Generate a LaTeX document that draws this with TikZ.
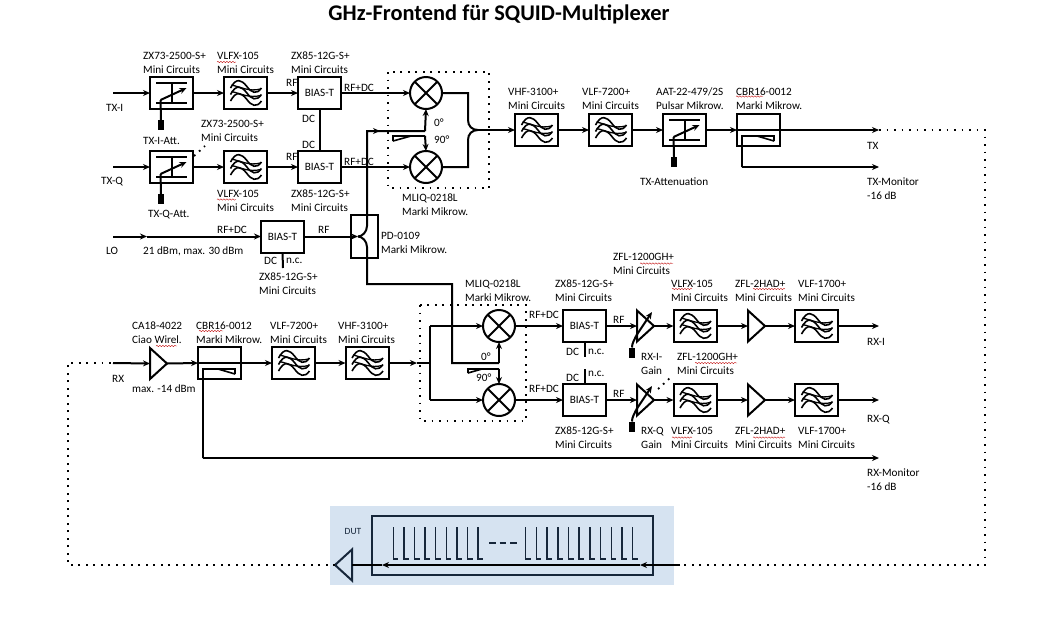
\documentclass[tikz,border=0pt]{standalone}
\usepackage{fontspec}
\setmainfont{Carlito}
\usetikzlibrary{arrows.meta,shapes.geometric,decorations.pathmorphing}
\definecolor{dutbg}{HTML}{D6E3F1}
\definecolor{dutline}{HTML}{16263A}
\tikzset{
    wire/.style={line width=2pt},
    dots/.style={line width=1.8pt,dash pattern=on 1.8pt off 5.7pt},
    lbl/.style={anchor=west,align=left,inner sep=0pt,yshift=-0.8pt,font=\fontsize{11.2}{14}\selectfont},
    spell/.style={draw=red!75!black,line width=0.35pt,decorate,decoration={snake,amplitude=0.7pt,segment length=3pt}},
    box/.style={draw,line width=2pt,minimum width=43pt,minimum height=32pt,inner sep=0pt,outer sep=0pt,font=\fontsize{11.2}{12}\selectfont},
    knob/.style={fill=black,minimum width=5.5pt,minimum height=10pt,inner sep=0pt,outer sep=0pt},
    filt/.style={box,path picture={
        \foreach \wy in {-7,-0.5,6}{
            \draw[line width=1.6pt,shift={(path picture bounding box.center)}]
                (-15,\wy+2) .. controls (-9,\wy-9) and (-4,\wy-6) .. (1,\wy)
                .. controls (6,\wy+7) and (11,\wy+9) .. (16,\wy+2);
        }
        \foreach \wy in {-7,-0.5}{
            \draw[line width=1.3pt,shift={(path picture bounding box.center)}]
                (-14,\wy-1) .. controls (-5,\wy+1) and (4,\wy+6) .. (15,\wy+3);
        }
    }},
    atten/.style={box,path picture={
        \begin{scope}[shift={(path picture bounding box.center)}]
            \draw[line width=2pt] (-15.5,-10) -- (15.5,-10) (-15.5,10) -- (15.5,10) (0.5,-10) -- (0.5,10);
            \draw[line width=2pt,-{Stealth[length=7pt,width=6pt]}] (-11,7) -- (15,-5);
        \end{scope}
    }},
    mixer/.style={circle,draw,line width=2pt,minimum size=32pt,inner sep=0pt,outer sep=0pt,path picture={
        \draw[line width=2pt] (path picture bounding box.north west) -- (path picture bounding box.south east)
            (path picture bounding box.north east) -- (path picture bounding box.south west);
    }},
    amp/.style={isosceles triangle,isosceles triangle stretches,draw,line width=2pt,minimum width=31pt,minimum height=17pt,inner sep=0pt,outer sep=0pt,anchor=lower side}
}
\begin{document}
\begin{tikzpicture}[x=1pt,y=-1pt]
    \useasboundingbox (0,0) rectangle (1055,622);
    \fill[dutbg] (330,506) rectangle (674,585);
    \draw
    (499,14) node[inner sep=0pt,font=\fontsize{22.4}{24}\selectfont\bfseries](title){GHz-Frontend für SQUID-Multiplexer}
    % TX branch
    (171.5,93) node[atten](attI){}
    (171.5,167) node[atten](attQ){}
    (245.5,93) node[filt](filtI){}
    (245.5,167) node[filt](filtQ){}
    (319.5,93) node[box](biasI){BIAS-T}
    (319.5,167) node[box](biasQ){BIAS-T}
    (426,93) node[mixer](mixI){}
    (426,167) node[mixer](mixQ){}
    (536.5,130) node[filt](filtTa){}
    (610.5,130) node[filt](filtTb){}
    (684.5,130) node[atten](attT){}
    (758.5,130) node[box](cplT){}
    (161,125) node[knob](knobI){}
    (161,199) node[knob](knobQ){}
    (674,162) node[knob](knobT){}
    % LO branch
    (282.5,236.5) node[box](biasL){BIAS-T}
    (364.5,236.5) node[draw,line width=2pt,minimum width=27pt,minimum height=43pt,inner sep=0pt,outer sep=0pt](split){}
    % RX branch
    (150,363.5) node[amp](ampR){}
    (219.5,363) node[box](cplR){}
    (293.5,363) node[filt](filtRa){}
    (367,363) node[filt](filtRb){}
    (499,326) node[mixer](mixRi){}
    (499,400) node[mixer](mixRq){}
    (584.5,326) node[box](biasRi){BIAS-T}
    (584.5,400) node[box](biasRq){BIAS-T}
    (637,326) node[amp](gainI){}
    (637,400) node[amp](gainQ){}
    (632,352.5) node[knob](knobRi){}
    (632,426.5) node[knob](knobRq){}
    (695,326) node[filt](filtRi){}
    (695,400) node[filt](filtRq){}
    (748,326) node[amp](ampRi){}
    (748,400) node[amp](ampRq){}
    (816.5,326) node[filt](lowRi){}
    (816.5,400) node[filt](lowRq){}
    % DUT
    (352,565) node[amp,shape border rotate=180,dutline](ampD){}
    ;
    \draw[line width=1.3pt,dutline] (372,516) rectangle (653,575);
    \foreach \i in {0,...,8}
        \draw[line width=1.5pt,dutline] (393.3+10.6*\i,527) -- (393.3+10.6*\i,559) -- (398.3+10.6*\i,559);
    \foreach \i in {0,...,10}
        \draw[line width=1.5pt,dutline] (525.7+10.7*\i,527) -- (525.7+10.7*\i,559) -- (530.7+10.7*\i,559);
    \draw[line width=1.3pt,dutline,dash pattern=on 6.5pt off 4pt] (489,543) -- (517,543);

    % loose ends of the connectors
    \coordinate (inI) at (113,93);
    \coordinate (inQ) at (113,167);
    \coordinate (inL) at (113,236.5);
    \coordinate (midL) at (147,236.5);
    \coordinate (inR) at (113,363);
    \coordinate (txsum) at (478,130);
    \coordinate (lofork) at (358,236.5);
    \coordinate (txout) at (879,130);
    \coordinate (txmon) at (879,167);
    \coordinate (rxfork) at (430,363);
    \coordinate (rxin) at (417,363);
    \coordinate (rxiout) at (879,326);
    \coordinate (rxqout) at (879,400);
    \coordinate (rxmon) at (879,458);
    \coordinate (losplit) at (367,131);
    \coordinate (lomid) at (380,131);
    \coordinate (rxlo) at (499,363);
    \coordinate (corner) at (985,130);
    \coordinate (cornerB) at (985,565);
    \coordinate (dutin) at (680,565);
    \coordinate (dutmidA) at (640,565);
    \coordinate (dutmidB) at (382,565);
    \coordinate (cornerC) at (68,565);
    \coordinate (cornerD) at (68,363);
    \coordinate (kI) at (160.5,100);
    \coordinate (kQ) at (160.5,174);
    \coordinate (kT) at (673.5,137);
    \coordinate (kRi) at (636,336);
    \coordinate (kRq) at (636,410);
    \coordinate (aRi) at (652,312);
    \coordinate (aRq) at (652,386);

    \begin{scope}[every edge/.style={-{Stealth[length=7pt,width=6pt]},draw=black,line width=2pt}]
        \path (inI) edge (attI.west);
        \path (inQ) edge (attQ.west);
        \path (attI.east) edge (filtI.west);
        \path (attQ.east) edge (filtQ.west);
        \path (filtI.east) edge (biasI.west);
        \path (filtQ.east) edge (biasQ.west);
        \path (biasI.east) edge (mixI.west);
        \path (biasQ.east) edge (mixQ.west);
        \path (txsum) edge (filtTa.west);
        \path (filtTa.east) edge (filtTb.west);
        \path (filtTb.east) edge (attT.west);
        \path (attT.east) edge (cplT.west);
        \path (cplT.west) edge (txout);
        \path (inL) edge (midL);
        \path (midL) edge (biasL.west);
        \path (biasL.east) edge (lofork);
        \path (inR) edge (ampR.lower side);
        \path (ampR.apex) edge (cplR.west);
        \path (cplR.west) edge (filtRa.west);
        \path (filtRa.east) edge (filtRb.west);
        \path (filtRb.east) edge (rxin);
        \path (mixRi.east) edge (biasRi.west);
        \path (mixRq.east) edge (biasRq.west);
        \path (biasRi.east) edge (gainI.lower side);
        \path (biasRq.east) edge (gainQ.lower side);
        \path (gainI.apex) edge (filtRi.west);
        \path (gainQ.apex) edge (filtRq.west);
        \path (filtRi.east) edge (ampRi.lower side);
        \path (filtRq.east) edge (ampRq.lower side);
        \path (ampRi.apex) edge (lowRi.west);
        \path (ampRq.apex) edge (lowRq.west);
        \path (lowRi.east) edge (rxiout);
        \path (lowRq.east) edge (rxqout);
        \path (kRi) edge (aRi);
        \path (kRq) edge (aRq);
        \path (losplit) edge (lomid);
        \path (425,131) edge (mixI.south);
        \path (425,136) edge (mixQ.north);
        \path (rxlo) edge (mixRi.south);
        \path (499,369) edge (mixRq.north);
        \path (dutin) edge (dutmidA);
        \path (dutmidA) edge (dutmidB);
        \path (430,326) edge (mixRi.west);
        \path (430,400) edge (mixRq.west);
        \path (742,167) edge (txmon);
        \path (203,458) edge (rxmon);
    \end{scope}

    \draw[wire] (biasI.south) -- (biasQ.north);
    \draw[wire] (mixI.east) -- (468,93) -- (468,120) .. controls (468,126) and (472,130) .. (txsum);
    \draw[wire] (mixQ.east) -- (468,167) -- (468,140) .. controls (468,134) and (472,130) .. (txsum);
    \draw[wire] (knobI.north) -- (kI);
    \draw[wire] (knobQ.north) -- (kQ);
    \draw[wire] (knobT.north) -- (kT);
    \draw[wire] (knobRi.north) .. controls (632,343) and (634,341) .. (kRi);
    \draw[wire] (knobRq.north) .. controls (632,417) and (634,415) .. (kRq);
    \draw[wire] (lofork) .. controls (362,236.5) and (367,232) .. (367,226) -- (losplit) -- (425,131);
    \draw[wire] (lofork) .. controls (362,236.5) and (367,241) .. (367,247) -- (367,284) -- (452,284) -- (452,363) -- (rxlo);
    \draw[line width=1.6pt] (393,141) -- (393,136) -- (425,136) (393,141) -- (411,136);
    \draw[line width=1.6pt] (468,373) -- (468,369) -- (499,369) (468,373) -- (482,369);
    \draw[line width=1.6pt] (774,141) -- (774,136) -- (742,136) -- (742,167) (774,141) -- (757,136);
    \draw[line width=1.6pt] (235,374) -- (235,369) -- (203,369) -- (203,458) (235,374) -- (218,369);
    \draw[wire] (rxin) -- (rxfork) (430,326) -- (430,400);
    \draw[wire] (biasL.south) -- (283,268);
    \draw[wire] (biasRi.south) -- (584.5,357);
    \draw[wire] (biasRq.north) -- (584.5,369);
    \draw[wire] (dutmidB) -- (ampD.lower side);

    % dotted parts
    \draw[dots] (388,72) rectangle (489,188);
    \draw[dots] (420,305) rectangle (526,421);
    \draw[dots] (txout) -- (corner) -- (cornerB) -- (dutin);
    \draw[dots] (ampD.apex) -- (cornerC) -- (cornerD) -- (inR);
    \draw[dots,dash pattern=on 1.8pt off 5pt] (194,156) -- (205,146);
    \draw[dots,dash pattern=on 1.8pt off 5pt] (658,389) -- (670,378);

    % spelling marks
    \draw[spell] (217,62) -- (236,62);
    \draw[spell] (217,199.5) -- (236,199.5);
    \draw[spell] (736,96.5) -- (763,96.5);
    \draw[spell] (199,331) -- (223,331);
    \draw[spell] (156,346) -- (177,346);
    \draw[spell] (640,263.5) -- (673,263.5);
    \draw[spell] (695,363) -- (737,363);
    \draw[spell] (753,289) -- (785,289);
    \draw[spell] (753,437.5) -- (785,437.5);
    \draw[spell] (672,289) -- (692,289);
    \draw[spell] (672,437.5) -- (692,437.5);

    % labels
    \draw
    (143,62) node[lbl](tAttI){ZX73-2500-S+\\Mini Circuits}
    (217,62) node[lbl](tFiltI){VLFX-105\\Mini Circuits}
    (291,62) node[lbl](tBiasI){ZX85-12G-S+\\Mini Circuits}
    (201,130) node[lbl](tAttQ){ZX73-2500-S+\\Mini Circuits}
    (217,200) node[lbl](tFiltQ){VLFX-105\\Mini Circuits}
    (291,200) node[lbl](tBiasQ){ZX85-12G-S+\\Mini Circuits}
    (106,107) node[lbl](tTxI){TX-I}
    (101,181) node[lbl](tTxQ){TX-Q}
    (143,140) node[lbl](tKnobI){TX-I-Att.}
    (148,214) node[lbl](tKnobQ){TX-Q-Att.}
    (286,82) node[lbl](tRfI){RF}
    (286,156) node[lbl](tRfQ){RF}
    (344,87) node[lbl](tRfdcI){RF+DC}
    (344,161) node[lbl](tRfdcQ){RF+DC}
    (302,118) node[lbl](tDcI){DC}
    (302,144) node[lbl](tDcQ){DC}
    (434,122) node[lbl](tZeroT){0°}
    (434,139) node[lbl](tNinetyT){90°}
    (402,204) node[lbl](tMixT){MLIQ-0218L\\Marki Mikrow.}
    (508,98) node[lbl](tFiltTa){VHF-3100+\\Mini Circuits}
    (582,98) node[lbl](tFiltTb){VLF-7200+\\Mini Circuits}
    (656,98) node[lbl](tAttT){AAT-22-479/2S\\Pulsar Mikrow.}
    (736,98) node[lbl](tCplT){CBR16-0012\\Marki Mikrow.}
    (640,181) node[lbl](tKnobT){TX-Attenuation}
    (867,145) node[lbl](tTx){TX}
    (867,188) node[lbl](tTxMon){TX-Monitor\\-16 dB}
    (106,250) node[lbl](tLo){LO}
    (217,229) node[lbl](tRfdcL){RF+DC}
    (143,251) node[lbl](tPow){21 dBm, max. 30 dBm}
    (318,229) node[lbl](tRfL){RF}
    (264,260) node[lbl](tDcL){DC}
    (286,260) node[lbl](tNcL){n.c.}
    (259,283) node[lbl](tBiasL){ZX85-12G-S+\\Mini Circuits}
    (381,242) node[lbl](tSplit){PD-0109\\Marki Mikrow.}
    (465,290) node[lbl](tMixR){MLIQ-0218L\\Marki Mikrow.}
    (555,290) node[lbl](tBiasRi){ZX85-12G-S+\\Mini Circuits}
    (555,437) node[lbl](tBiasRq){ZX85-12G-S+\\Mini Circuits}
    (132,332) node[lbl](tAmpR){CA18-4022\\Ciao Wirel.}
    (196,332) node[lbl](tCplR){CBR16-0012\\Marki Mikrow.}
    (270,332) node[lbl](tFiltRa){VLF-7200+\\Mini Circuits}
    (338,332) node[lbl](tFiltRb){VHF-3100+\\Mini Circuits}
    (112,378) node[lbl](tRx){RX}
    (132,388) node[lbl](tMax){max. -14 dBm}
    (481,356) node[lbl](tZeroR){0°}
    (476,377) node[lbl](tNinetyR){90°}
    (529,314) node[lbl](tRfdcRi){RF+DC}
    (529,388) node[lbl](tRfdcRq){RF+DC}
    (566,351) node[lbl](tDcRi){DC}
    (588,351) node[lbl](tNcRi){n.c.}
    (566,377) node[lbl](tDcRq){DC}
    (588,373) node[lbl](tNcRq){n.c.}
    (613,319) node[lbl](tRfRi){RF}
    (613,393) node[lbl](tRfRq){RF}
    (613,263) node[lbl](tGainI){ZFL-1200GH+\\Mini Circuits}
    (677,363) node[lbl](tGainQ){ZFL-1200GH+\\Mini Circuits}
    (641,363) node[lbl](tKnobRi){RX-I-\\Gain}
    (641,437) node[lbl](tKnobRq){RX-Q\\Gain}
    (671,290) node[lbl](tFiltRi){VLFX-105\\Mini Circuits}
    (671,437) node[lbl](tFiltRq){VLFX-105\\Mini Circuits}
    (735,290) node[lbl](tAmpRi){ZFL-2HAD+\\Mini Circuits}
    (735,437) node[lbl](tAmpRq){ZFL-2HAD+\\Mini Circuits}
    (798,290) node[lbl](tLowRi){VLF-1700+\\Mini Circuits}
    (798,437) node[lbl](tLowRq){VLF-1700+\\Mini Circuits}
    (867,341) node[lbl](tRxI){RX-I}
    (867,419) node[lbl](tRxQ){RX-Q}
    (867,479) node[lbl](tRxMon){RX-Monitor\\-16 dB}
    (353,531) node[inner sep=0pt,font=\fontsize{9.5}{10}\selectfont,dutline](tDut){DUT}
    ;
\end{tikzpicture}
\end{document}
